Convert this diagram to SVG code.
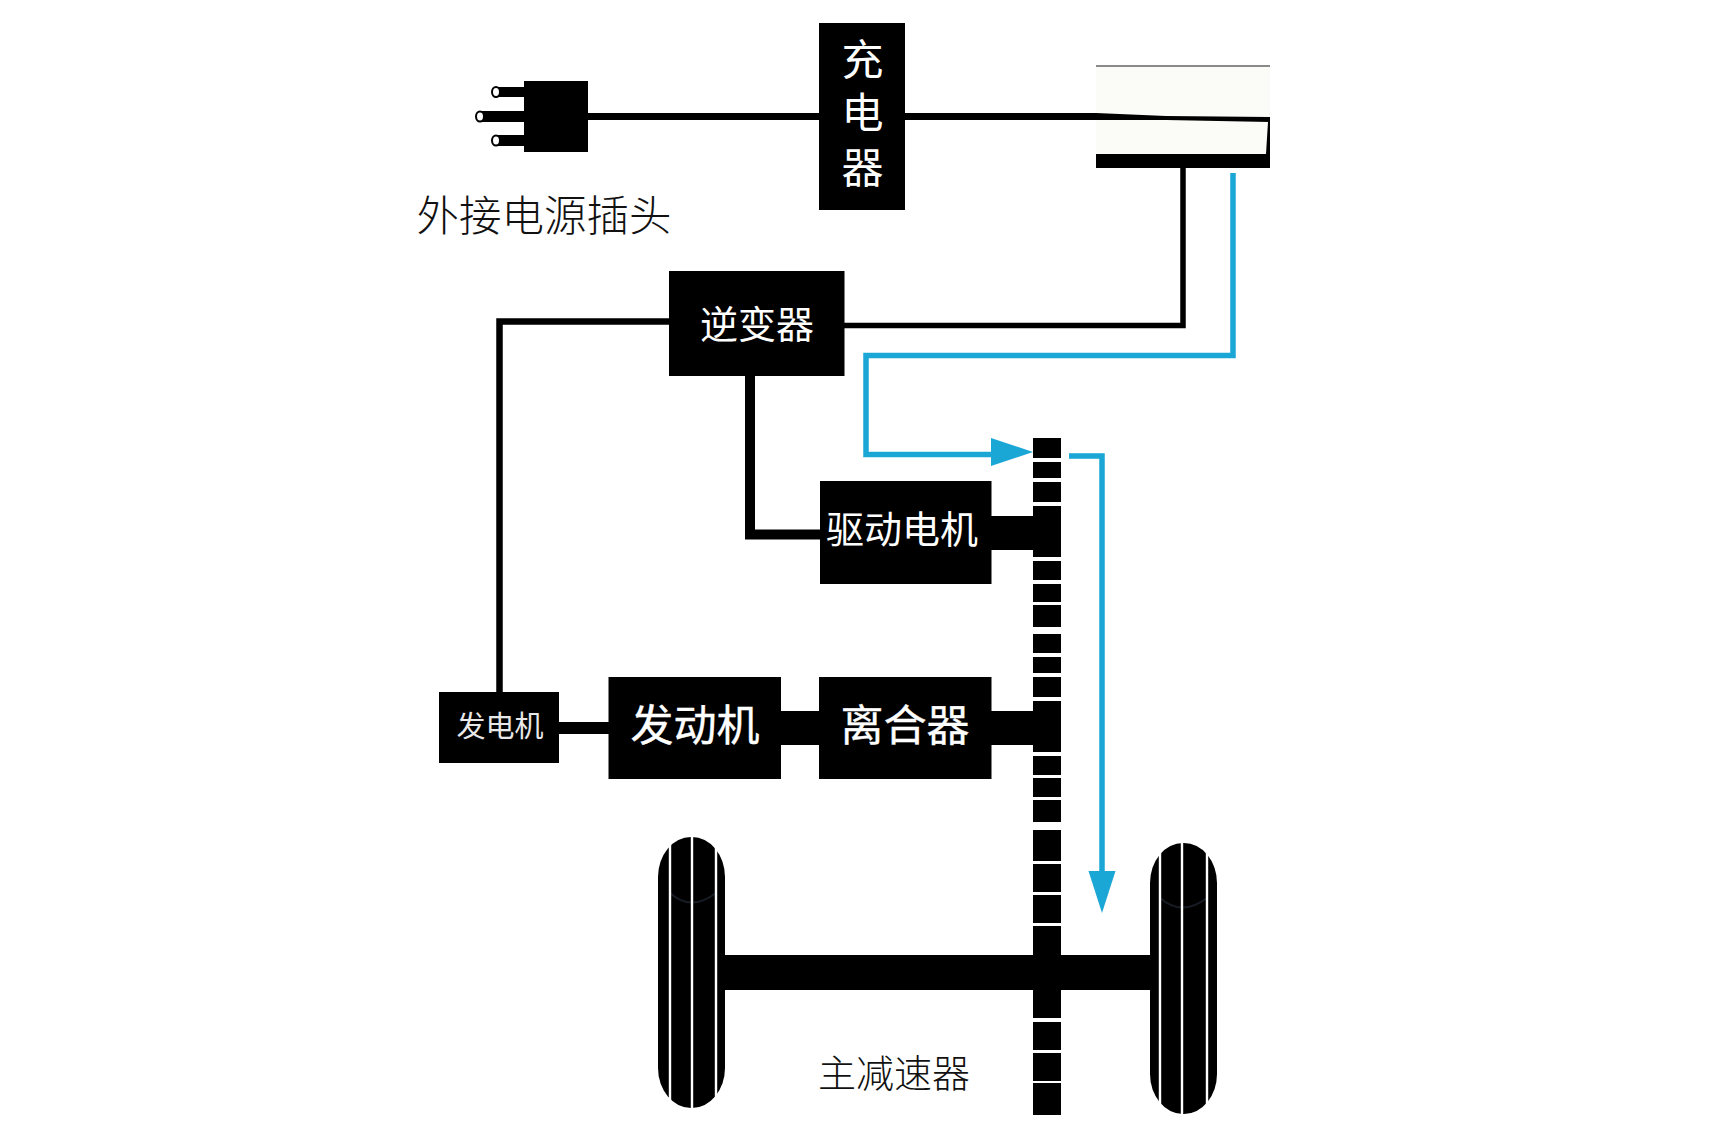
<svg xmlns="http://www.w3.org/2000/svg" width="1710" height="1140" viewBox="0 0 1710 1140">
<style>
.b{fill:#000}
.w{fill:none;stroke:#000;stroke-linejoin:miter}
.blue{fill:none;stroke:#1aa7d6;stroke-width:5.5}
.t{font-family:"Noto Sans CJK SC","Noto Sans",sans-serif;text-anchor:middle}
.tw{fill:#fff}
.tm{fill:#fff;stroke:#fff;stroke-width:.4}
.tk{fill:#111;font-weight:300}
.groove{stroke:#fff;stroke-width:2.4}
.hole{fill:#fff;stroke:#000;stroke-width:2}
.arc{fill:none;stroke:#161b24;stroke-width:2}
</style>
<defs>
<marker id="ah1" markerUnits="userSpaceOnUse" markerWidth="42" markerHeight="30" refX="0" refY="16.5" orient="auto" overflow="visible"><path d="M0,0 L42,14 L0,28 Z" fill="#1aa7d6"/></marker>
<marker id="ah2" markerUnits="userSpaceOnUse" markerWidth="42" markerHeight="28" refX="0" refY="13.5" orient="auto" overflow="visible"><path d="M0,0 L42,13.5 L0,27 Z" fill="#1aa7d6"/></marker>
</defs>
<rect width="1710" height="1140" fill="#fff"/>
<g id="connectors">
<path class="w" stroke-width="7" d="M588,116.500H822"/>
<path class="w" stroke-width="7" d="M903,116.500H1096"/>
<path class="w" stroke-width="5.500" d="M1183,168V325.500H844"/>
<path class="w" stroke-width="6.500" d="M671,321.500H499.500V695"/>
<path class="w" stroke-width="10" d="M750,376V534.500H822"/>
<rect class="b" x="991" y="516" width="44" height="34"/>
<rect class="b" x="557" y="722" width="53" height="12"/>
<rect class="b" x="779" y="711" width="42" height="34"/>
<rect class="b" x="991" y="711" width="44" height="34"/>
<rect class="b" x="723" y="955" width="428" height="35"/>
<path class="blue" d="M1233,173V355.500H866V454.500H991" marker-end="url(#ah1)"/>
<path class="blue" d="M1069,456H1102V871" marker-end="url(#ah2)"/>
</g>
<g id="plug">
<rect class="b" x="524" y="81" width="64" height="71"/>
<rect class="b" x="497" y="87" width="28" height="10"/>
<rect class="b" x="478" y="111" width="47" height="11"/>
<rect class="b" x="497" y="135" width="28" height="11"/>
<ellipse class="hole" cx="496" cy="92" rx="4" ry="5"/>
<ellipse class="hole" cx="480" cy="116.500" rx="4" ry="5"/>
<ellipse class="hole" cx="496" cy="140.500" rx="4" ry="5"/>
<text class="t tk" x="544" y="231" font-size="42.500">外接电源插头</text>
</g>
<g id="charger">
<rect class="b" x="819" y="23" width="86" height="187"/>
<text class="t tw" font-size="42"><tspan x="862.500" y="75">充</tspan><tspan x="862.500" y="128">电</tspan><tspan x="862.500" y="183">器</tspan></text>
</g>
<g id="battery">
<rect x="1096" y="65" width="174" height="103" fill="#fbfbf8"/>
<rect x="1096" y="65" width="174" height="2" fill="#8a8a8a"/>
<path class="b" d="M1096,113 L1166,116 L1270,117 V122 L1166,120 L1096,120 Z"/>
<path class="b" d="M1096,154 L1266,154 L1268,122 L1270,122 V168 H1096 Z"/>
</g>
<g id="inverter">
<rect class="b" x="669" y="271" width="175.500" height="105"/>
<text class="t tw" x="757" y="338" font-size="38">逆变器</text>
</g>
<g id="motor">
<rect class="b" x="820" y="481" width="171.500" height="103"/>
<text class="t tw" x="902" y="543" font-size="38">驱动电机</text>
</g>
<g id="generator">
<rect class="b" x="439" y="692" width="120" height="71"/>
<text class="t tw" x="500" y="737" font-size="29" style="fill:#e8e8e8">发电机</text>
</g>
<g id="engine">
<rect class="b" x="608.500" y="677" width="172.500" height="102"/>
<text class="t tm" x="695" y="741" font-size="43">发动机</text>
</g>
<g id="clutch">
<rect class="b" x="819" y="677" width="172.500" height="102"/>
<text class="t tm" x="905" y="741" font-size="43">离合器</text>
</g>
<g id="gear">
<rect class="b" x="1033" y="438" width="28" height="20"/>
<rect class="b" x="1033" y="462" width="28" height="16"/>
<rect class="b" x="1033" y="482" width="28" height="20"/>
<rect class="b" x="1033" y="506" width="28" height="51"/>
<rect class="b" x="1033" y="561" width="28" height="19"/>
<rect class="b" x="1033" y="584" width="28" height="18"/>
<rect class="b" x="1033" y="605" width="28" height="22"/>
<rect class="b" x="1033" y="634" width="28" height="19"/>
<rect class="b" x="1033" y="657" width="28" height="16"/>
<rect class="b" x="1033" y="677" width="28" height="20"/>
<rect class="b" x="1033" y="701" width="28" height="51"/>
<rect class="b" x="1033" y="756" width="28" height="19"/>
<rect class="b" x="1033" y="778" width="28" height="19"/>
<rect class="b" x="1033" y="800" width="28" height="22"/>
<rect class="b" x="1033" y="830" width="28" height="31"/>
<rect class="b" x="1033" y="864" width="28" height="28"/>
<rect class="b" x="1033" y="895" width="28" height="28"/>
<rect class="b" x="1033" y="926" width="28" height="92"/>
<rect class="b" x="1033" y="1022" width="28" height="28"/>
<rect class="b" x="1033" y="1053" width="28" height="28"/>
<rect class="b" x="1033" y="1083" width="28" height="32"/>
<text class="t tk" x="894" y="1087" font-size="38">主减速器</text>
</g>
<g id="wheel-left">
<rect class="b" x="658" y="837" width="67" height="271" rx="33" ry="40"/>
<path class="arc" d="M670,893Q691,912 716,893"/>
<path class="groove" d="M670,840V1105M692,835V1110M716,840V1105"/>
</g>
<g id="wheel-right">
<rect class="b" x="1150" y="843" width="67" height="271" rx="33" ry="40"/>
<path class="arc" d="M1160,898Q1182,917 1207,898"/>
<path class="groove" d="M1160,846V1111M1182,841V1116M1207,846V1111"/>
</g>
</svg>
